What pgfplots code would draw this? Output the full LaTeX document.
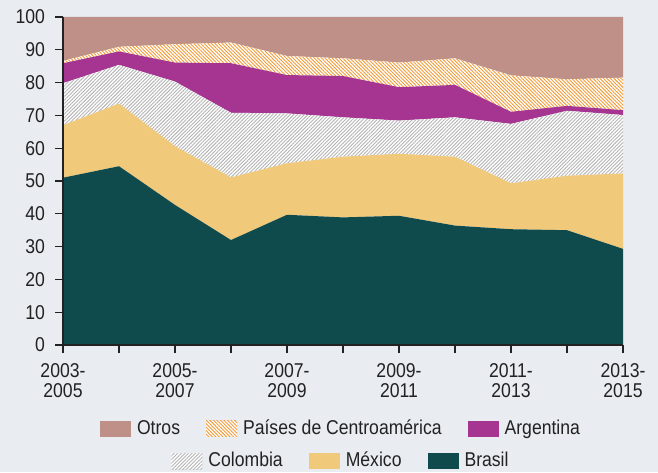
\documentclass[border=0pt]{standalone}
\usepackage{fontspec}
\setmainfont{Liberation Sans}[FakeStretch=0.88]
\usepackage{pgfplots}
\pgfplotsset{compat=1.18}
\usetikzlibrary{patterns.meta}
\definecolor{bgc}{HTML}{E9ECF1}
\definecolor{txt}{HTML}{222222}
\definecolor{otros}{HTML}{BF9087}
\definecolor{arg}{HTML}{A63591}
\definecolor{mex}{HTML}{F1C97A}
\definecolor{bra}{HTML}{0F4B4C}
\definecolor{hatorange}{HTML}{F39A34}
\definecolor{hatgray}{HTML}{B4B4B4}
\tikzset{
  colst/.style={fill=white, draw=none, postaction={pattern={Lines[angle=45,distance=1.25pt,line width=0.45pt]}, pattern color=hatgray}},
  cast/.style={fill=white, draw=none, postaction={pattern={Lines[angle=-45,distance=1.25pt,line width=0.45pt]}, pattern color=hatorange}},
}
\pgfplotsset{
  mylegend/.style={
    legend columns=-1,
    legend image code/.code={\path[##1, draw=none] (0pt,-4pt) rectangle (15.5pt,4pt);},
    legend style={draw=none, fill=none, anchor=center,
      font=\fontsize{10}{10}\selectfont, text=txt,
      nodes={inner xsep=3pt, inner ysep=1pt},
      /tikz/every even column/.append style={column sep=10pt}},
  },
  base/.style={
    at={(31.5pt,63.5pt)}, anchor=south west, scale only axis,
    width=280pt, height=164pt,
    xmin=0, xmax=10, ymin=0, ymax=100,
  }
}
\begin{document}
\begin{tikzpicture}[font=\fontsize{10}{10}\selectfont, text=txt]
\useasboundingbox (0,0) rectangle (329pt,236pt);
\fill[bgc] (0,0) rectangle (329pt,236pt);
\begin{axis}[base, mylegend,
  stack plots=y,
  axis on top,
  axis lines=left,
  axis line style={-, txt, line width=0.6pt},
  tick align=outside,
  major tick length=4pt,
  tick style={txt, line width=0.6pt},
  ytick={0,10,...,100},
  xtick={0,...,10},
  xticklabels={{2003-\\2005},{},{2005-\\2007},{},{2007-\\2009},{},{2009-\\2011},{},{2011-\\2013},{},{2013-\\2015}},
  xticklabel style={align=center, font=\fontsize{10}{10}\selectfont, text=txt, yshift=-1.5pt},
  yticklabel style={font=\fontsize{10}{10}\selectfont, text=txt, xshift=-1.5pt},
  /pgf/number format/assume math mode=true,
  reverse legend,
  legend style={at={(0.5,-0.256)}},
]
\addplot[fill=bra, draw=none, forget plot] coordinates {(0,51) (1,54.5) (2,42.7) (3,32) (4,39.7) (5,38.9) (6,39.4) (7,36.4) (8,35.3) (9,35) (10,29.3)} \closedcycle;
\addplot[fill=mex, draw=none, forget plot] coordinates {(0,16) (1,19.1) (2,17.9) (3,19.1) (4,15.7) (5,18.5) (6,18.9) (7,21) (8,14) (9,16.6) (10,23)} \closedcycle;
\addplot[colst, forget plot] coordinates {(0,12.8) (1,11.8) (2,19.7) (3,19.7) (4,15.2) (5,12) (6,10.1) (7,12) (8,18.1) (9,19.8) (10,17.8)} \closedcycle;
\addplot[fill=arg, draw=none] coordinates {(0,6.1) (1,4.1) (2,5.8) (3,15.1) (4,11.7) (5,12.6) (6,10.2) (7,9.9) (8,3.7) (9,1.5) (10,1.5)} \closedcycle;
\addlegendentry{Argentina}
\addplot[cast] coordinates {(0,0.7) (1,1.4) (2,5.6) (3,6.3) (4,5.8) (5,5.4) (6,7.5) (7,8.1) (8,11.1) (9,8.1) (10,9.9)} \closedcycle;
\addlegendentry{Países de Centroamérica}
\addplot[fill=otros, draw=none] coordinates {(0,13.4) (1,9.1) (2,8.3) (3,7.8) (4,11.9) (5,12.6) (6,13.9) (7,12.6) (8,17.8) (9,19) (10,18.5)} \closedcycle;
\addlegendentry{Otros}
\end{axis}
\begin{axis}[base, mylegend, hide axis, legend style={at={(0.5,-0.3537)}}]
\addlegendimage{colst}
\addlegendentry{Colombia}
\addlegendimage{fill=mex}
\addlegendentry{México}
\addlegendimage{fill=bra}
\addlegendentry{Brasil}
\end{axis}
\end{tikzpicture}
\end{document}
